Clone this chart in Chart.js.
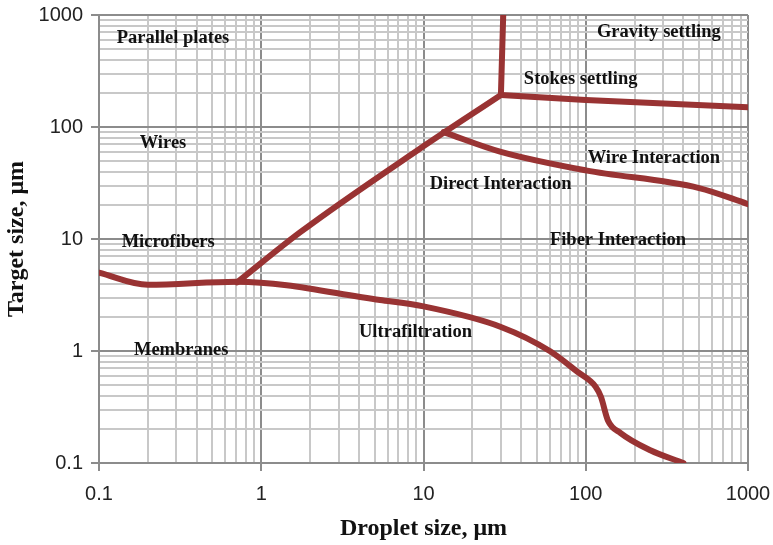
<!DOCTYPE html>
<html>
<head>
<meta charset="utf-8">
<script src="https://cdn.jsdelivr.net/npm/chart.js@4.4.1/dist/chart.umd.min.js"></script>
<style>
  html, body { margin: 0; padding: 0; background: #fff; }
  #wrap { width: 773px; height: 545px; position: relative; }
</style>
</head>
<body>
<div id="wrap"><canvas id="c"></canvas></div>
<script>
// decade tick labels shown on both axes
const xLabels = [0.1, 1, 10, 100, 1000];
const yLabels = [0.1, 1, 10, 100, 1000];

// boundary curves (droplet size x, target size y)
const gravityX = [31, 30];
const gravityY = [1000, 193];
const stokesX = [30, 100, 1000];
const stokesY = [193, 174, 150];
const directX = [0.71, 1.74, 9.2, 30];
const directY = [4.1, 11.5, 62, 193];
const wireX = [13.3, 30, 100, 500, 1000];
const wireY = [90, 60, 41, 28.5, 20.5];
const membraneX = [0.1, 0.2, 0.71, 5.4, 10, 30, 60, 89, 115, 124, 137, 164, 250, 400];
const membraneY = [5, 3.9, 4.15, 2.85, 2.5, 1.64, 1.0, 0.65, 0.48, 0.39, 0.24, 0.185, 0.13, 0.1];

// region names and where they sit (data coordinates, text centre)
const regionNames = ["Parallel plates", "Gravity settling", "Stokes settling", "Wires",
  "Wire Interaction", "Direct Interaction", "Microfibers", "Fiber Interaction",
  "Ultrafiltration", "Membranes"];
const regionX = [0.286, 282, 93, 0.248, 263, 29.9, 0.267, 158, 8.93, 0.321];
const regionY = [623, 705, 268, 72, 53, 31, 9.4, 9.8, 1.48, 1.02];

const LINE = "#993333";
const SERIF = "'Liberation Serif', 'DejaVu Serif', serif";
const SANS = "'Liberation Sans', Arial, sans-serif";

function pts(xs, ys) {
  return xs.map((x, i) => ({ x, y: ys[i] }));
}

function isMajor(v) {
  const l = Math.log10(v);
  return Math.abs(l - Math.round(l)) < 1e-6;
}

function allTicks(scale) {
  const out = [];
  for (let e = -1; e <= 2; e++) {
    for (let m = 1; m <= 9; m++) out.push({ value: m * Math.pow(10, e) });
  }
  out.push({ value: 1000 });
  scale.ticks = out;
}

function curve(data, tension) {
  return {
    data,
    borderColor: LINE,
    borderWidth: 6,
    pointRadius: 0,
    showLine: true,
    fill: false,
    tension: tension || 0,
    cubicInterpolationMode: tension ? "monotone" : "default",
    borderCapStyle: "round",
    borderJoinStyle: "round",
  };
}

const regionLabels = {
  id: "regionLabels",
  afterDatasetsDraw(chart) {
    const { ctx, scales } = chart;
    ctx.save();
    ctx.font = "bold 18.5px " + SERIF;
    ctx.fillStyle = "#111";
    ctx.textAlign = "center";
    ctx.textBaseline = "middle";
    regionNames.forEach((t, i) => {
      ctx.fillText(t, scales.x.getPixelForValue(regionX[i]), scales.y.getPixelForValue(regionY[i]));
    });
    ctx.restore();
  },
};

const gridOpts = {
  color: (c) => (c.tick && isMajor(c.tick.value) ? "#8c8c8c" : "#c8c8c8"),
  lineWidth: 2,
  tickColor: (c) => (c.tick && isMajor(c.tick.value) ? "#8c8c8c" : "rgba(0,0,0,0)"),
  tickWidth: 2,
  tickLength: 8,
  drawTicks: true,
};

new Chart(document.getElementById("c"), {
  type: "scatter",
  data: {
    datasets: [
      curve(pts(gravityX, gravityY)),
      curve(pts(stokesX, stokesY)),
      curve(pts(directX, directY), 0.4),
      curve(pts(wireX, wireY), 0.4),
      curve(pts(membraneX, membraneY), 0.4),
    ],
  },
  options: {
    responsive: true,
    maintainAspectRatio: false,
    animation: false,
    layout: { padding: { left: 0, top: 15, right: 25, bottom: 0 } },
    plugins: { legend: { display: false }, tooltip: { enabled: false } },
    scales: {
      x: {
        type: "logarithmic",
        min: 0.1,
        max: 1000,
        afterBuildTicks: allTicks,
        afterFit: (s) => {
          s.height = 82;
          s.paddingLeft = 0;
          s.paddingRight = 0;
        },
        grid: gridOpts,
        border: { display: true, color: "#8c8c8c", width: 2 },
        ticks: {
          autoSkip: false,
          maxRotation: 0,
          padding: 11,
          color: "#222",
          font: { family: SANS, size: 20 },
          callback: (v) => (xLabels.includes(v) ? String(v) : ""),
        },
        title: {
          display: true,
          text: "Droplet size, \u03bcm",
          color: "#111",
          font: { family: SERIF, size: 24, weight: "bold" },
          padding: { top: 0, bottom: 2 },
        },
      },
      y: {
        type: "logarithmic",
        min: 0.1,
        max: 1000,
        afterBuildTicks: allTicks,
        afterFit: (s) => {
          s.width = 99;
          s.paddingTop = 0;
          s.paddingBottom = 0;
        },
        grid: gridOpts,
        border: { display: true, color: "#8c8c8c", width: 2 },
        ticks: {
          autoSkip: false,
          padding: 8,
          color: "#222",
          font: { family: SANS, size: 20 },
          callback: (v) => (yLabels.includes(v) ? String(v) : ""),
        },
        title: {
          display: true,
          text: "Target size, \u03bcm",
          color: "#111",
          font: { family: SERIF, size: 24, weight: "bold" },
          padding: { top: 2, bottom: 0 },
        },
      },
    },
  },
  plugins: [regionLabels],
});
</script>
</body>
</html>
